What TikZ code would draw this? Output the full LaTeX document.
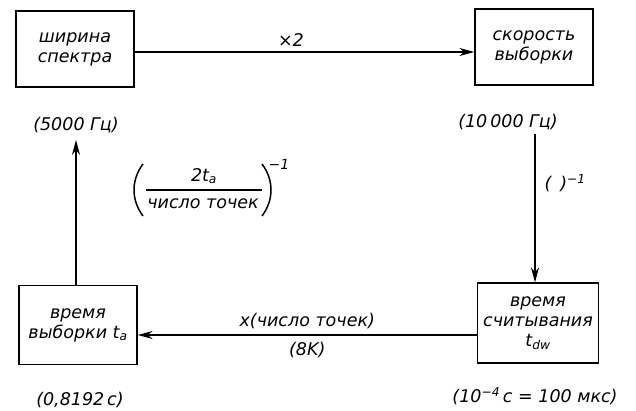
\documentclass[tikz,border=0pt]{standalone}
\usepackage{fontspec}
\setmainfont{DejaVu Sans}
\usetikzlibrary{arrows.meta}
\newcommand{\sub}[1]{\textsubscript{#1}}
\newcommand{\supr}[1]{\textsuperscript{#1}}
\newcommand{\lblfont}{\fontsize{17.5}{20}\selectfont\itshape}
\begin{document}
\begin{tikzpicture}[x=1pt,y=-1pt,
  blk/.style={draw,line width=1.3pt,minimum width=118pt,minimum height=76pt,align=center,inner sep=1pt,font=\lblfont},
  lbl/.style={font=\lblfont,inner sep=1pt},
  arr/.style={line width=1.4pt,-{Stealth[length=15pt,width=8pt]}},
  paren/.style={line width=1.5pt}]
\useasboundingbox (0,0) rectangle (636,411);
\node[blk] (spec) at (75,49) {ширина\\спектра};
\node[blk] (rate) at (534,47) {скорость\\выборки};
\node[blk,minimum width=121pt,minimum height=80pt] (read) at (538,323) {время\\считывания\\t\sub{dw}};
\node[blk,minimum height=79pt] (samp) at (78,325) {время\\выборки t\sub{a}};
\node[lbl] (f1) at (76,125) {(5000 Гц)};
\node[lbl] (f2) at (508,122) {(10\,000 Гц)};
\node[lbl] (t1) at (80,400) {(0,8192\,с)};
\node[lbl] (t2) at (535,396) {(10\supr{−4}\,с = 100 мкс)};
\coordinate (rtop) at (535,134);
\coordinate (ltop) at (76,140);
\draw[arr] (spec.east |- 0,52) -- (rate.west |- 0,52) node[lbl,pos=0.46,above=4pt] (x2) {×2};
\draw[arr] (rtop) -- (read.north -| rtop) node[lbl,pos=0.33,right=8pt] (inv) {(\enspace)\supr{−1}};
\draw[arr] (read.west |- 0,335) -- (samp.east |- 0,335) node[lbl,pos=0.5,above=4pt] (mul) {x(число точек)} node[lbl,pos=0.5,below=6pt] (k8) {(8K)};
\draw[arr] (samp.north -| ltop) -- (ltop);
% fraction (2 t_a / число точек)^-1
\node[lbl] (num) at (204,176) {2t\sub{a}};
\node[lbl] (den) at (203,204) {число точек};
\draw[line width=1.3pt] (146,190) -- (262,190);
\draw[paren] (143,164) .. controls (131,180) and (131,200) .. (143,216);
\draw[paren] (262,164) .. controls (274,180) and (274,200) .. (262,216);
\node[font=\fontsize{14}{16}\selectfont\itshape,inner sep=1pt] (exp) at (279,164) {−1};
\end{tikzpicture}
\end{document}
